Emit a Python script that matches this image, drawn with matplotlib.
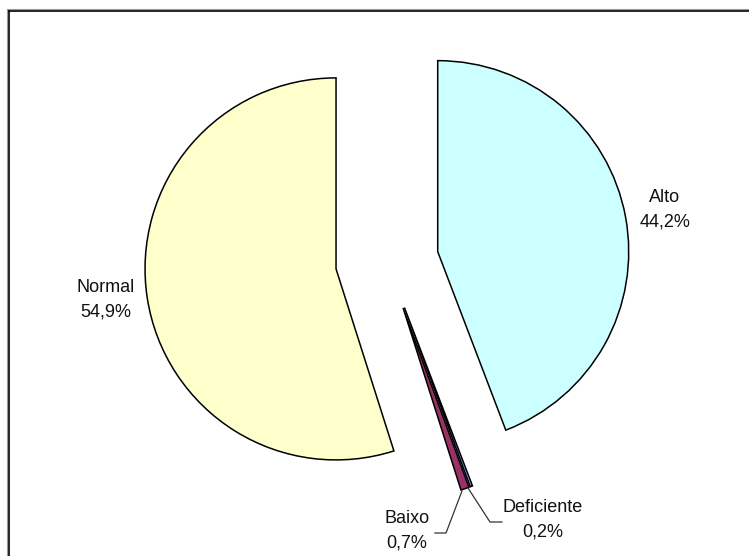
import matplotlib.pyplot as plt
from matplotlib.lines import Line2D

# categories in drawing order (clockwise from 12 o'clock)
categorias = ["Alto", "Deficiente", "Baixo", "Normal"]
percentuais = [44.2, 0.2, 0.7, 54.9]
cores = ["#CCFFFF", "#9999FF", "#993366", "#FFFFCC"]
afastamento = [0.27, 0.26, 0.26, 0.27]

plt.rcParams['font.family'] = ['Liberation Sans', 'DejaVu Sans']

W, H = 749, 556
R = 191.0          # pie radius in pixels
CX, CY = 387, 261  # pie centre in pixels


def px(x, y):
    # pixel position -> data coordinates (radius = 1)
    return (x - CX) / R, (CY - y) / R


fig = plt.figure(figsize=(W / 100, H / 100), dpi=100)
ax = fig.add_axes([0, 0, 1, 1])

ax.pie(percentuais, colors=cores, explode=afastamento, startangle=90,
       counterclock=False, radius=1,
       wedgeprops=dict(edgecolor='black', linewidth=1.1))

# pie() resets the limits, so set them afterwards
ax.set_xlim(px(0, 0)[0], px(W, 0)[0])
ax.set_ylim(px(0, H)[1], px(0, 0)[1])
ax.axis('off')


def rotulo(nome, valor, x, y):
    txt = "{}\n{}%".format(nome, str(valor).replace('.', ','))
    ax.text(*px(x, y), txt, ha='center', va='center', fontsize=13,
            linespacing=1.55, color='#111111')


rotulo(categorias[0], percentuais[0], 665, 210)
rotulo(categorias[3], percentuais[3], 106, 300)
rotulo(categorias[2], percentuais[2], 407, 531)
rotulo(categorias[1], percentuais[1], 543, 520)

# leader lines for the two thin slices
for pts in ([(462, 491), (446, 533), (435, 533)],
            [(468, 488), (490, 522), (502, 522)]):
    xs, ys = zip(*[px(a, b) for a, b in pts])
    ax.plot(xs, ys, color='#333333', linewidth=0.9)

# chart frame (top and left edges)
fx, fy = 8.5 / W, 1 - 10.5 / H
fig.add_artist(Line2D([7.5 / W, 1], [1 - 9.3 / H] * 2, color='#999999', lw=0.8))
fig.add_artist(Line2D([7.3 / W] * 2, [0, 1 - 9.3 / H], color='#999999', lw=0.8))
fig.add_artist(Line2D([fx, 1], [fy, fy], color='black', lw=1.2))
fig.add_artist(Line2D([fx, fx], [0, fy], color='black', lw=1.2))

fig.savefig("out.png", dpi=100)
